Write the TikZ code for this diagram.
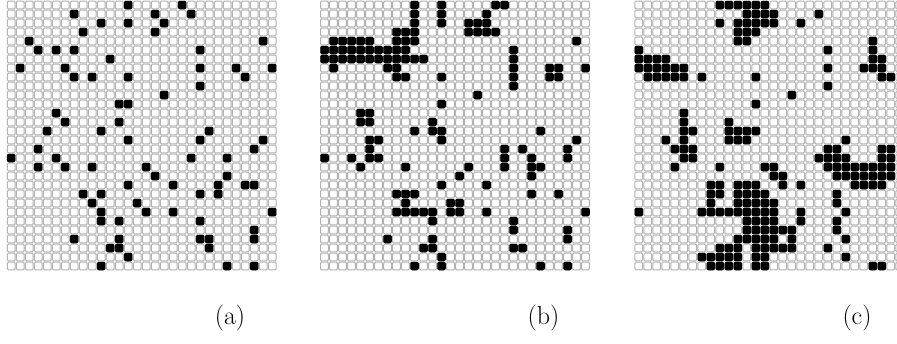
\documentclass[tikz,border=0pt]{standalone}
\usepackage{tikz}
\tikzset{
  cellgrid/.style={draw=gray!60, line width=1pt, rounded corners=1.2pt},
  cellon/.style={fill=black, rounded corners=2pt},
  sublabel/.style={font=\fontsize{26}{30}\selectfont, inner sep=0pt}
}
\newcommand{\gridpanel}[2]{%
  \foreach \c in {0,...,29}{
    \foreach \r in {0,...,29}{
      \draw[cellgrid] ({#1+9*\c+0.6},{0.5+9*\r+0.6}) rectangle ++(7.8,7.8);
    }
  }
  \foreach \r/\cs in {#2}{
    \foreach \c in \cs {
      \fill[cellon] ({#1+9*\c+0.25},{0.5+9*\r+0.25}) rectangle ++(8.5,8.5);
    }
  }
}
\begin{document}
\begin{tikzpicture}[x=1pt,y=-1pt]
\useasboundingbox (0,0) rectangle (897,343);
\clip (0,0) rectangle (897,343);
\fill[white] (0,0) rectangle (897,343);
% panel (a)
\gridpanel{6.7}{0/{13,19},1/{7,16,20},2/{10,13,17},3/{8,16},4/{2,28},5/{3,5,7,21},6/{11},7/{1,6,21,25,29},8/{7,9,13,26},9/{21},10/{17},11/{12,13},12/{5},13/{6,12},14/{4,10,22},15/{13,21,28},16/{3,27},17/{0,5,20,24},18/{3,6,9,15},19/{16,24},20/{13,18,23,26,27},21/{8,10,21,23},22/{9,14},23/{10,15,18,29},24/{10,12,21},25/{27},26/{7,12,21,22,27},27/{11,12,22},28/{13},29/{10,24,27}}
% panel (b)
\gridpanel{320.0}{0/{10,13,19,20},1/{10,13,18},2/{10,13,16,17,18},3/{8,9,10,16,17,18,19},4/{1,2,3,4,5,8,9,10,28},5/{0,1,2,3,4,5,6,7,8,9,21},6/{0,1,2,3,4,5,6,7,8,9,10,11,21},7/{1,7,8,21,25,26,29},8/{8,9,13,21,25,26},9/{21},10/{17},11/{13},12/{4,5},13/{4,5,12},14/{10,12,13,24},15/{5,6,13,28},16/{5,20,22,27},17/{0,3,5,6,20,23,27},18/{4,9,16,20,23,24},19/{15,23},20/{13,18},21/{8,9,10,23,26},22/{9,14,15},23/{8,9,10,11,12,14,15,18,29},24/{12,21},25/{21,27},26/{7,12,27},27/{11,12,21,22},28/{13},29/{10,13,24,27}}
% panel (c)
\gridpanel{634.3}{0/{9,10,11,12,13,14},1/{12,13,14,15,20},2/{9,11,12,13,14,15,18},3/{11,12,13},4/{11,12,26},5/{0,21,26},6/{0,1,2,3,26,27},7/{0,1,2,3,4,5,21,25,26,27},8/{1,2,3,4,5,7,13,27,28},9/{21},10/{17},11/{13},12/{5},13/{5,10},14/{5,6,10,11,12,13},15/{3,5,10,11,12,23},16/{4,5,6,21,22,27,28},17/{5,6,20,21,22,23,27,28},18/{4,9,14,15,21,22,23,24,25,26,27,28},19/{15,16,22,23,24,25,26,27,28},20/{8,9,11,12,13,16,18,24,25,26,27},21/{8,9,11,12,13,14,22},22/{8,11,12,13,14,15,22},23/{0,7,8,9,10,11,12,13,14,15,18,23},24/{12,13,14,15,18,22},25/{12,13,14,15,16,17,22},26/{11,12,13,14,15,17,23},27/{9,10,11,13,14,15,16,17,21},28/{7,8,9,10,11,13,14,23},29/{8,9,10,11,13,14,26,27}}
% labels
\node[sublabel] (la) at (230,318) {(a)};
\node[sublabel] (lb) at (543.5,318) {(b)};
\node[sublabel] (lc) at (857,318) {(c)};
\end{tikzpicture}
\end{document}
